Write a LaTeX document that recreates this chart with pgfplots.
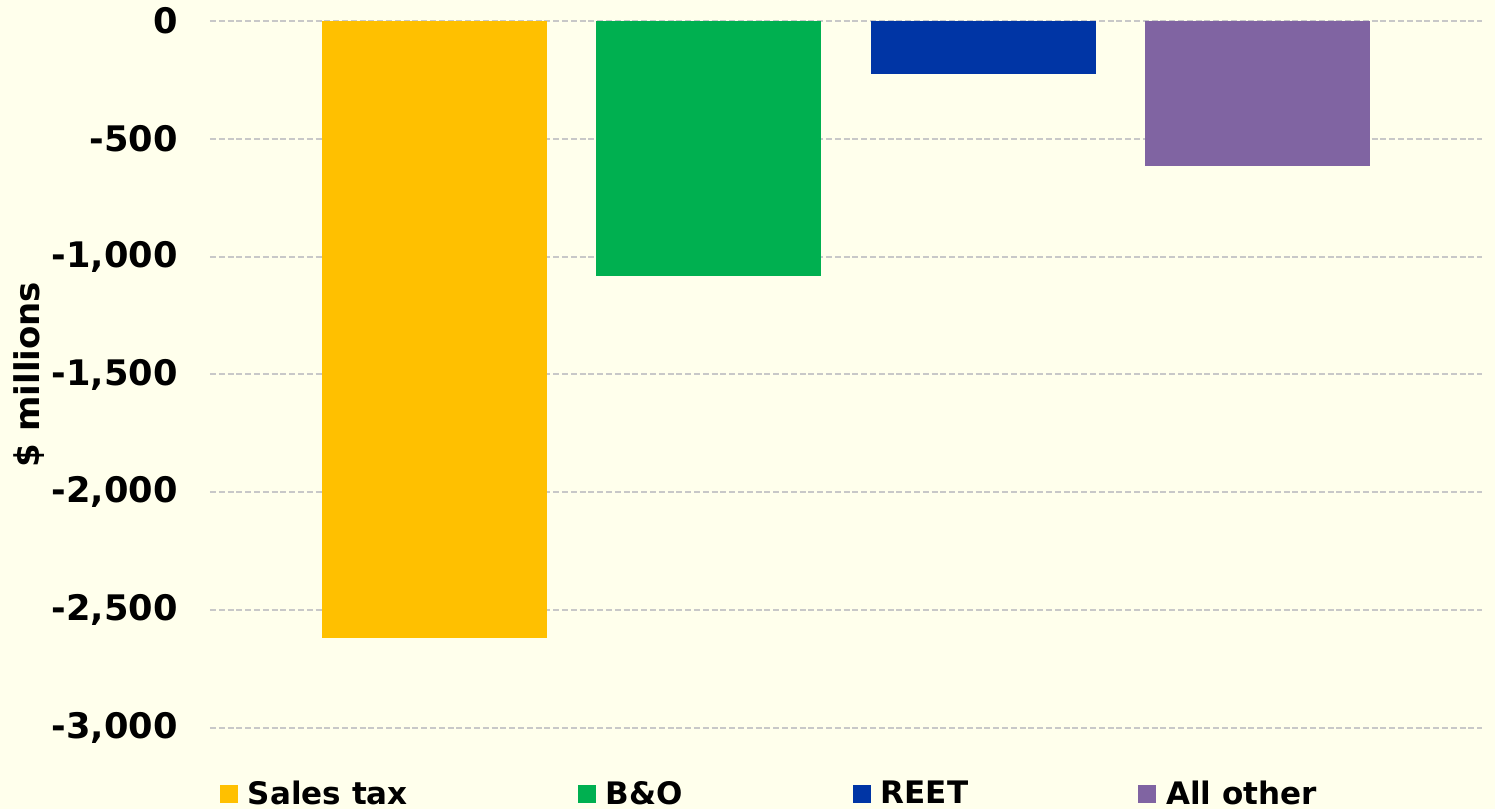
\documentclass[border=0pt]{standalone}
\usepackage{fontspec}
\setmainfont{DejaVu Sans}
\usepackage{pgfplots}
\pgfplotsset{compat=1.18}
\definecolor{bg}{HTML}{FFFFEC}
\definecolor{cSales}{HTML}{FFC000}
\definecolor{cBO}{HTML}{00B050}
\definecolor{cREET}{HTML}{0035A5}
\definecolor{cOther}{HTML}{8064A2}
\definecolor{gridc}{HTML}{C8C8C8}
\pagecolor{bg}
\pgfplotsset{
  sqleg/.style={legend image code/.code={\fill[##1] (0pt,-4.5pt) rectangle (9pt,4.5pt);}},
  mybar/.style={ybar, bar width=112.5pt, bar shift=0pt, draw=none, sqleg},
}
\begin{document}
\begin{tikzpicture}
\begin{axis}[
  scale only axis, width=636pt, height=353.5pt,
  xmin=-0.8193, xmax=3.8193, ymin=-3000, ymax=0,
  axis line style={draw=none},
  major tick length=0pt,
  xtick=\empty,
  ytick={-3000,-2500,-2000,-1500,-1000,-500,0},
  ymajorgrids,
  grid style={gridc, line width=1pt, dash pattern=on 3pt off 1.4pt},
  /pgf/number format/.cd, 1000 sep={,}, assume math mode=true,
  /pgfplots/.cd,
  yticklabel style={anchor=east, inner sep=0pt, xshift=-16pt, font=\bfseries\fontsize{17.6}{20}\selectfont},
  every axis y label/.style={at={(rel axis cs:-0.1423,0.5)}, rotate=90, anchor=center, font=\bfseries\fontsize{17}{20}\selectfont},
  ylabel={\$ millions},
  legend columns=4,
  legend cell align=left,
  legend style={at={(rel axis cs:0.00786,-0.0934)}, anchor=west, draw=none, fill=none,
    inner sep=0pt, outer sep=0pt, nodes={inner sep=0pt},
    font=\bfseries\fontsize{15.5}{18}\selectfont,
    /tikz/every odd column/.append style={column sep=5pt},
    /tikz/every even column/.append style={column sep=85pt}},
]
\addplot[mybar, fill=cSales] coordinates {(0,-2620)};
\addlegendentry{Sales tax}
\addplot[mybar, fill=cBO] coordinates {(1,-1080)};
\addlegendentry{B\&O}
\addplot[mybar, fill=cREET] coordinates {(2,-224)};
\addlegendentry{REET}
\addplot[mybar, fill=cOther] coordinates {(3,-614)};
\addlegendentry{All other}
\coordinate (bbsw) at (rel axis cs:-0.16509,-0.11457);
\coordinate (bbne) at (rel axis cs:1.01022,1.02970);
\end{axis}
\pgfresetboundingbox
\path (bbsw) rectangle (bbne);
\end{tikzpicture}
\end{document}
